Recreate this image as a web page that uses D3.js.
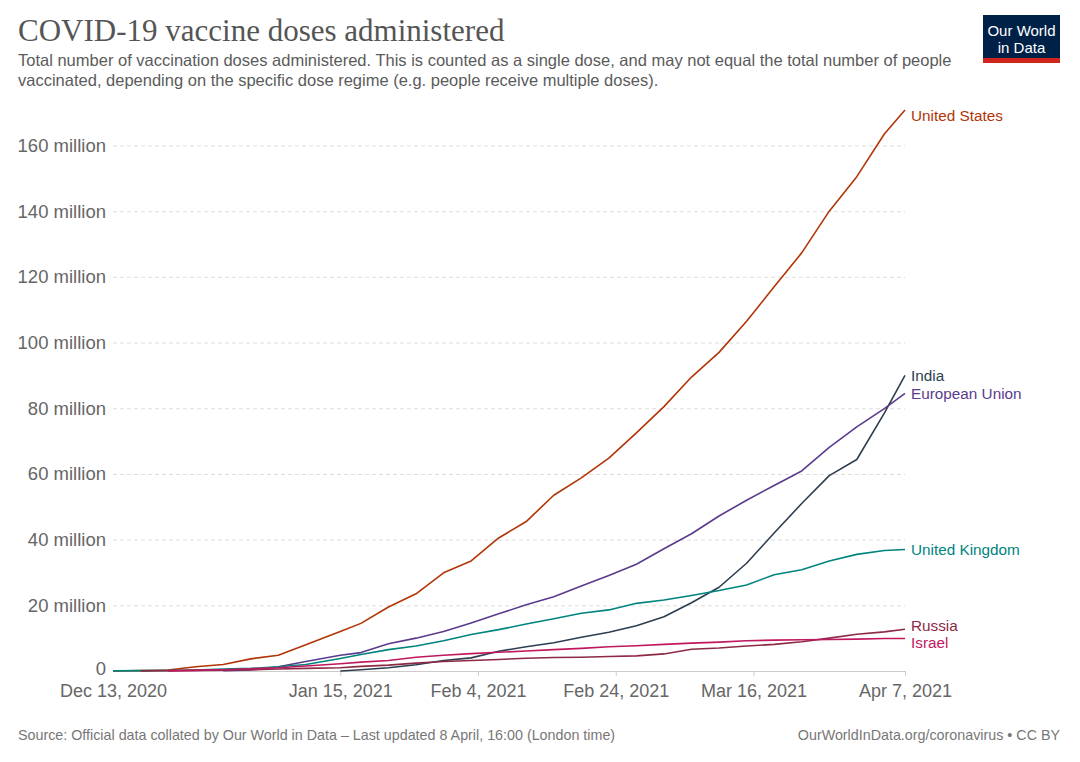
<!DOCTYPE html>
<html>
<head>
<meta charset="utf-8">
<script src="https://cdn.jsdelivr.net/npm/d3@7"></script>
<style>
  body { margin: 0; background: #fff; }
  svg { font-family: "Liberation Sans", Arial, sans-serif; }
</style>
</head>
<body>
<svg id="chart" width="1080" height="762"></svg>
<script>
// sample dates (every ~4 days) and doses in millions
const dates = ["2020-12-13","2020-12-17","2020-12-21","2020-12-25","2020-12-29","2021-01-02",
  "2021-01-06","2021-01-10","2021-01-15","2021-01-18","2021-01-22","2021-01-26","2021-01-30",
  "2021-02-03","2021-02-07","2021-02-11","2021-02-15","2021-02-19","2021-02-23","2021-02-27",
  "2021-03-03","2021-03-07","2021-03-11","2021-03-15","2021-03-19","2021-03-23","2021-03-27",
  "2021-03-31","2021-04-04","2021-04-07"];

const unitedStates = [0, 0.1, 0.3, 1.3, 2.0, 3.7, 4.8, 8.0, 12.0, 14.5, 19.5, 23.5, 29.9, 33.5,
  40.5, 45.5, 53.5, 58.8, 64.8, 72.5, 80.5, 89.5, 97, 106.5, 117, 127.3, 140, 150.5, 163.5, 170.8];
const india = [null, null, null, null, null, null, null, null, 0, 0.4, 1.0, 1.9, 3.2, 4.0,
  6.0, 7.4, 8.6, 10.3, 11.8, 13.8, 16.5, 20.8, 25.5, 32.8, 42.0, 51.0, 59.5, 64.4, 78.5, 90.0];
const europeanUnion = [null, null, null, null, 0.1, 0.3, 1.3, 2.9, 4.8, 5.6, 8.3, 10.0, 12.0, 14.6,
  17.4, 20.2, 22.6, 25.9, 29.1, 32.5, 37.2, 41.8, 47.2, 52.0, 56.5, 60.9, 68.1, 74.3, 79.9, 84.5];
const unitedKingdom = [0.05, 0.1, 0.15, 0.3, 0.6, 0.8, 1.3, 2.0, 3.8, 5.0, 6.5, 7.6, 9.2, 11.1,
  12.6, 14.3, 15.9, 17.6, 18.6, 20.6, 21.6, 23.0, 24.5, 26.2, 29.3, 30.8, 33.5, 35.5, 36.7, 37.0];
const russia = [null, 0, 0.1, 0.2, 0.25, 0.4, 0.6, 0.8, 1.0, 1.4, 1.8, 2.4, 2.9, 3.2,
  3.5, 3.9, 4.1, 4.2, 4.4, 4.6, 5.2, 6.6, 7.0, 7.6, 8.1, 8.9, 10.0, 11.2, 11.9, 12.7];
const israel = [null, null, 0.05, 0.2, 0.4, 0.7, 1.0, 1.5, 2.2, 2.7, 3.2, 4.2, 4.8, 5.3,
  5.7, 6.1, 6.5, 6.9, 7.4, 7.7, 8.1, 8.5, 8.8, 9.2, 9.4, 9.5, 9.6, 9.7, 9.9, 9.9];

const seriesNames = ["United States", "India", "European Union", "United Kingdom", "Russia", "Israel"];
const seriesColors = ["#b13507", "#2d3e50", "#5b3b8c", "#00847e", "#8c2a45", "#c0185e"];
const yTicks = [0, 20, 40, 60, 80, 100, 120, 140, 160];
const xTicks = ["2020-12-13", "2021-01-15", "2021-02-04", "2021-02-24", "2021-03-16", "2021-04-07"];

const parse = d3.timeParse("%Y-%m-%d");
const allValues = [unitedStates, india, europeanUnion, unitedKingdom, russia, israel];
const series = seriesNames.map((name, i) => ({
  name: name,
  color: seriesColors[i],
  values: dates.map((d, j) => ({date: parse(d), value: allValues[i][j]})).filter(p => p.value !== null)
}));

let svg = d3.select("#chart"),
    plotLeft = 113, plotRight = 905, plotTop = 110, plotBottom = 671;

let x = d3.scaleTime()
  .domain([parse(dates[0]), parse(dates[dates.length - 1])])
  .range([plotLeft, plotRight]);

let y = d3.scaleLinear()
  .domain([0, d3.max(unitedStates)])
  .range([plotBottom, plotTop]);

// header
svg.append("text")
  .attr("x", 18).attr("y", 41)
  .style("font-family", "'Liberation Serif', 'DejaVu Serif', serif")
  .style("font-size", "31px")
  .style("fill", "#555")
  .text("COVID-19 vaccine doses administered");

let sub = svg.append("text")
  .style("font-size", "16.5px")
  .style("fill", "#5b5b5b");
sub.append("tspan").attr("x", 18).attr("y", 66)
  .text("Total number of vaccination doses administered. This is counted as a single dose, and may not equal the total number of people");
sub.append("tspan").attr("x", 18).attr("y", 86)
  .text("vaccinated, depending on the specific dose regime (e.g. people receive multiple doses).");

// logo
let logo = svg.append("g");
logo.append("rect").attr("x", 983).attr("y", 15).attr("width", 77).attr("height", 48).attr("fill", "#002147");
logo.append("rect").attr("x", 983).attr("y", 58).attr("width", 77).attr("height", 5).attr("fill", "#ce261e");
logo.append("text").attr("x", 1021.5).attr("y", 36).attr("text-anchor", "middle")
  .style("font-size", "15px").style("fill", "#fff").text("Our World");
logo.append("text").attr("x", 1021.5).attr("y", 53).attr("text-anchor", "middle")
  .style("font-size", "15px").style("fill", "#fff").text("in Data");

// y axis grid + labels
let yAxis = svg.append("g")
  .attr("class", "y axis")
  .attr("transform", "translate(" + plotLeft + ",0)")
  .call(d3.axisLeft(y)
    .tickValues(yTicks)
    .tickSize(-(plotRight - plotLeft))
    .tickPadding(7)
    .tickFormat(d => d === 0 ? "0" : d + " million"));
yAxis.select(".domain").remove();
yAxis.selectAll(".tick line")
  .attr("stroke", "#ddd")
  .attr("stroke-dasharray", "4,3")
  .attr("stroke-width", 1);
yAxis.selectAll(".tick").filter(d => d === 0).select("line").remove();
yAxis.selectAll(".tick text")
  .style("font-size", "18.5px")
  .style("font-family", "'Liberation Sans', Arial, sans-serif")
  .style("fill", "#666");
// lift the zero label slightly so it clears the date below
yAxis.selectAll(".tick").filter(d => d === 0).select("text").attr("dy", "0.2em");

// x axis
let xAxis = svg.append("g")
  .attr("class", "x axis")
  .attr("transform", "translate(0," + plotBottom + ")")
  .call(d3.axisBottom(x)
    .tickValues(xTicks.map(parse))
    .tickSize(5)
    .tickSizeOuter(0)
    .tickPadding(8)
    .tickFormat(d3.timeFormat("%b %-d, %Y")));
xAxis.select(".domain").attr("stroke", "#ccc");
xAxis.selectAll(".tick line").attr("stroke", "#ccc");
xAxis.selectAll(".tick").filter((d, i) => i === 0).select("line").remove();
xAxis.selectAll(".tick text")
  .style("font-size", "18px")
  .style("font-family", "'Liberation Sans', Arial, sans-serif")
  .style("fill", "#666");

// lines
let line = d3.line()
  .x(d => x(d.date))
  .y(d => y(d.value));

svg.append("g").selectAll("path")
  .data(series)
  .enter()
  .append("path")
  .attr("d", d => line(d.values))
  .attr("fill", "none")
  .attr("stroke", d => d.color)
  .attr("stroke-width", 1.6)
  .attr("stroke-linejoin", "round");

// end labels, pushed apart when too close
let labels = series.map(s => ({name: s.name, color: s.color, y: y(s.values[s.values.length - 1].value)}));
labels.sort((a, b) => a.y - b.y);
labels.forEach(l => { l.y = Math.max(l.y, plotTop + 6); });
for (let iter = 0; iter < 20; iter++) {
  for (let i = 1; i < labels.length; i++) {
    let gap = labels[i].y - labels[i - 1].y;
    if (gap < 17) {
      let shift = (17 - gap) / 2;
      labels[i - 1].y -= shift;
      labels[i].y += shift;
    }
  }
}
svg.append("g").selectAll("text")
  .data(labels)
  .enter()
  .append("text")
  .attr("x", plotRight + 6)
  .attr("y", d => d.y)
  .attr("dy", "0.35em")
  .style("font-size", "15.3px")
  .style("fill", d => d.color)
  .text(d => d.name);

// footer
svg.append("text")
  .attr("x", 18).attr("y", 740)
  .style("font-size", "14.3px").style("fill", "#777")
  .text("Source: Official data collated by Our World in Data \u2013 Last updated 8 April, 16:00 (London time)");
svg.append("text")
  .attr("x", 1060).attr("y", 740)
  .attr("text-anchor", "end")
  .style("font-size", "14.3px").style("fill", "#777")
  .text("OurWorldInData.org/coronavirus \u2022 CC BY");
</script>
</body>
</html>
